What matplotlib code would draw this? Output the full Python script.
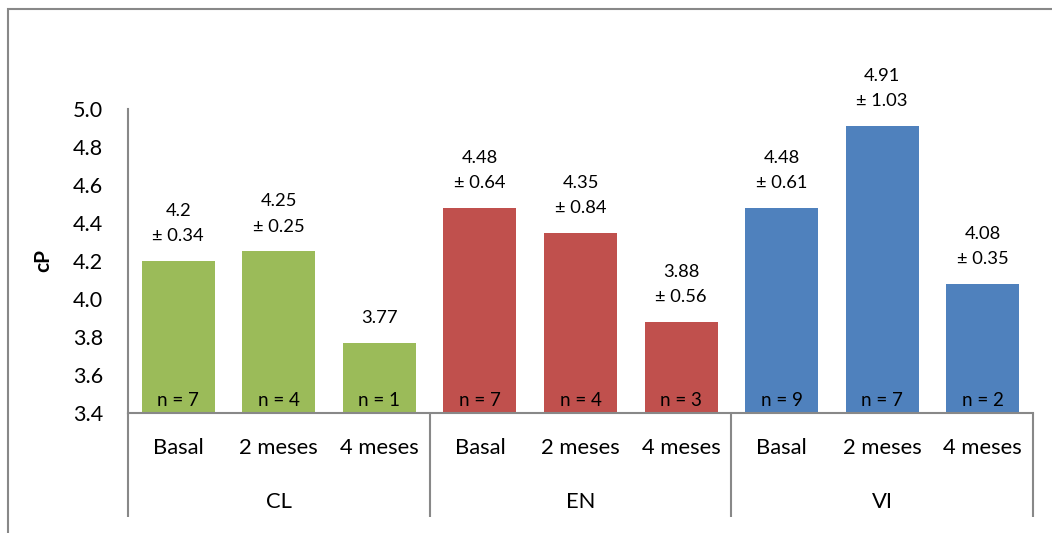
import matplotlib
matplotlib.use("Agg")
import matplotlib.pyplot as plt
from matplotlib.patches import Rectangle
import matplotlib.transforms as mtransforms

plt.rcParams['font.family'] = ['Lato', 'DejaVu Sans']

groups = ["CL", "EN", "VI"]
periods = ["Basal", "2 meses", "4 meses"]
values = [4.2, 4.25, 3.77, 4.48, 4.35, 3.88, 4.48, 4.91, 4.08]
value_labels = ["4.2", "4.25", "3.77", "4.48", "4.35", "3.88", "4.48", "4.91", "4.08"]
sd_labels = ["0.34", "0.25", None, "0.64", "0.84", "0.56", "0.61", "1.03", "0.35"]
n_values = [7, 4, 1, 7, 4, 3, 9, 7, 2]
group_colors = ["#9BBB59", "#C0504D", "#4F81BD"]
yticks = [3.4, 3.6, 3.8, 4.0, 4.2, 4.4, 4.6, 4.8, 5.0]

W, H = 1052, 533
fig = plt.figure(figsize=(W / 100, H / 100), dpi=100)
ax_l, ax_r, ax_t, ax_b = 128, 1033, 109, 413
ax = fig.add_axes([ax_l / W, (H - ax_b) / H, (ax_r - ax_l) / W, (ax_b - ax_t) / H])

x = list(range(len(values)))
colors = [group_colors[i // 3] for i in x]
ax.bar(x, [v - 3.4 for v in values], bottom=3.4, width=0.725, color=colors, zorder=2)
ax.set_xlim(-0.5, 8.5)
ax.set_ylim(3.4, 5.0)
ax.set_yticks(yticks)
ax.set_yticklabels([f"{t:.1f}" for t in yticks], fontsize=15.5)
ax.set_xticks([])
ax.tick_params(axis='y', length=0, pad=18)
for s in ["top", "right"]:
    ax.spines[s].set_visible(False)
for s in ["left", "bottom"]:
    ax.spines[s].set_color("#888888")
    ax.spines[s].set_linewidth(1.5)

ax.set_ylabel("cP", fontsize=15, fontweight="bold", labelpad=14)

pt = 72 / 100
fs_val = 13.2
for i, v in enumerate(values):
    if sd_labels[i] is None:
        ax.annotate(value_labels[i], (i, v), xytext=(0, 25 * pt), textcoords="offset points",
                    ha="center", va="center", fontsize=fs_val)
    else:
        ax.annotate(value_labels[i], (i, v), xytext=(0, 50 * pt), textcoords="offset points",
                    ha="center", va="center", fontsize=fs_val)
        ax.annotate("± " + sd_labels[i], (i, v), xytext=(0, 25 * pt), textcoords="offset points",
                    ha="center", va="center", fontsize=fs_val)
    ax.annotate(f"n = {n_values[i]}", (i, 3.4), xytext=(0, 13 * pt), textcoords="offset points",
                ha="center", va="center", fontsize=13.5, zorder=3)

# category axis (multi-level)
trans = mtransforms.blended_transform_factory(ax.transData, ax.transAxes)
bottom_frac = (ax_b - 517) / (ax_b - ax_t)
for xs in [-0.5, 2.5, 5.5, 8.5]:
    ax.plot([xs, xs], [0, bottom_frac], transform=trans, color="#888888", lw=1.5,
            clip_on=False, solid_capstyle="butt")
cat_y = (ax_b - 448) / (ax_b - ax_t)
grp_y = (ax_b - 502) / (ax_b - ax_t)
for i in x:
    ax.text(i, cat_y, periods[i % 3], transform=trans, ha="center", va="center", fontsize=15.8)
for g, name in enumerate(groups):
    ax.text(3 * g + 1, grp_y, name, transform=trans, ha="center", va="center", fontsize=15.8)

# outer chart border
fig.patches.append(Rectangle((8 / W, -0.1), 1.2, (H - 9.5) / H + 0.1, transform=fig.transFigure,
                             fill=False, edgecolor="#888888", lw=1.5))

fig.savefig("out.png", dpi=100)
